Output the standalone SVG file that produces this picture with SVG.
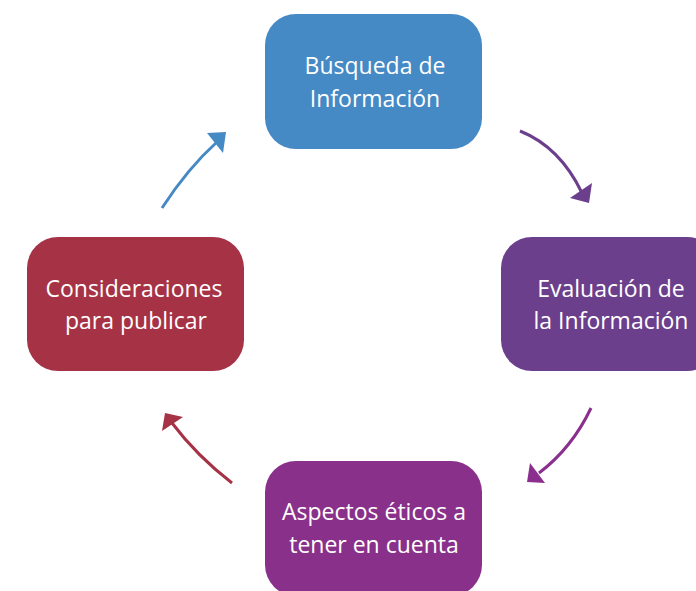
<svg xmlns="http://www.w3.org/2000/svg" width="696" height="591" viewBox="0 0 696 591">
<style>
.box{stroke:none}
.lbl{font-family:"Open Sans","Noto Sans",sans-serif;font-size:23px;fill:#ffffff;text-anchor:middle}
.edge{fill:none;stroke-width:3;stroke-linecap:butt}
</style>
<rect x="0" y="0" width="696" height="591" fill="#ffffff"/>
<g id="connectors">
  <g id="e-blue">
    <path class="edge" stroke="#4589C5" d="M162,208 Q188,168 217,142"/>
    <polygon fill="#4589C5" points="207,133 226,132 223,153"/>
  </g>
  <g id="e-purple1">
    <path class="edge" stroke="#6C3F8D" d="M520,131 Q560,147 582,193"/>
    <polygon fill="#6C3F8D" points="570,198 592,183 589,203"/>
  </g>
  <g id="e-purple2">
    <path class="edge" stroke="#8A2F8E" d="M591,408 Q572,448 539,473"/>
    <polygon fill="#8A2F8E" points="530,463 545,483 527,482"/>
  </g>
  <g id="e-red">
    <path class="edge" stroke="#A63246" d="M232,483 Q197,456 172,423"/>
    <polygon fill="#A63246" points="165,413 183,417 162,431"/>
  </g>
</g>
<g id="n-busqueda">
  <rect class="box" x="265" y="14" width="217" height="135" rx="31" fill="#4589C5"/>
  <text class="lbl" x="375" y="74">Búsqueda de</text>
  <text class="lbl" x="375" y="107">Información</text>
</g>
<g id="n-evaluacion">
  <rect class="box" x="501" y="237" width="217" height="134" rx="31" fill="#6C3F8D"/>
  <text class="lbl" x="611" y="297">Evaluación de</text>
  <text class="lbl" x="611" y="329">la Información</text>
</g>
<g id="n-aspectos">
  <rect class="box" x="265" y="461" width="217" height="135" rx="31" fill="#89318A"/>
  <text class="lbl" x="374" y="520">Aspectos éticos a</text>
  <text class="lbl" x="374" y="553">tener en cuenta</text>
</g>
<g id="n-consideraciones">
  <rect class="box" x="27" y="237" width="217" height="134" rx="31" fill="#A63246"/>
  <text class="lbl" x="134" y="297">Consideraciones</text>
  <text class="lbl" x="136" y="329">para publicar</text>
</g>
</svg>
